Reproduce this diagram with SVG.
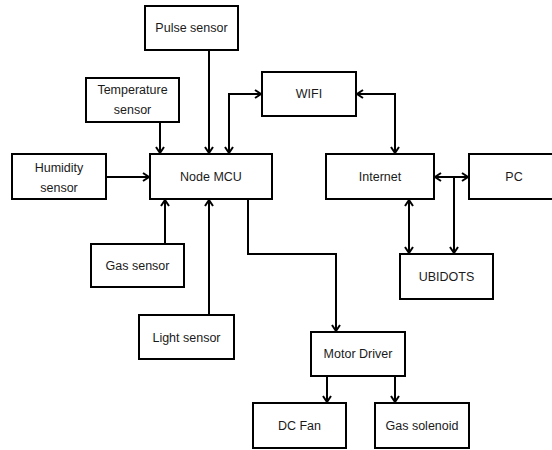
<svg xmlns="http://www.w3.org/2000/svg" width="552" height="450" viewBox="0 0 552 450">
<style>
.box{fill:#fff;stroke:#000;stroke-width:2}
.lbl{font-family:"Liberation Sans",Arial,sans-serif;font-size:12.5px;fill:#1a1a1a;text-anchor:middle;dominant-baseline:central}
.ln{fill:none;stroke:#000;stroke-width:2}
.a{marker-end:url(#ah)}
.aa{marker-start:url(#ah);marker-end:url(#ah)}
</style>
<defs>
<marker id="ah" markerUnits="userSpaceOnUse" viewBox="-8 -6 10 12" refX="0" refY="0" markerWidth="10" markerHeight="12" orient="auto-start-reverse">
<path d="M-6,-4 L0,0 L-6,4" fill="none" stroke="#000" stroke-width="2"/>
</marker>
</defs>
<rect width="552" height="450" fill="#fff"/>
<g id="connectors">
<path class="ln a" d="M209,50 V153"/>
<path class="ln a" d="M160,122 V153"/>
<path class="ln a" d="M106,177 H149"/>
<path class="ln aa" d="M229,153 V94 H261"/>
<path class="ln aa" d="M357,94 H395 V153"/>
<path class="ln aa" d="M435,177 H468"/>
<path class="ln aa" d="M409,200 V253"/>
<path class="ln a" d="M454,177 V253"/>
<path class="ln a" d="M165,244 V200"/>
<path class="ln a" d="M209,315 V200"/>
<path class="ln a" d="M248,199 V254 H336 V331"/>
<path class="ln a" d="M327,376 V402"/>
<path class="ln a" d="M395,376 V402"/>
</g>
<g id="pulse"><rect class="box" x="145" y="6" width="93" height="44"/><text class="lbl" x="191.5" y="28">Pulse sensor</text></g>
<g id="temperature"><rect class="box" x="86" y="78" width="93" height="44"/><text class="lbl" x="132.5" y="90">Temperature</text><text class="lbl" x="132.5" y="110">sensor</text></g>
<g id="humidity"><rect class="box" x="12" y="154" width="94" height="45"/><text class="lbl" x="59" y="168">Humidity</text><text class="lbl" x="59" y="188">sensor</text></g>
<g id="nodemcu"><rect class="box" x="150" y="154" width="122" height="45"/><text class="lbl" x="211" y="177">Node MCU</text></g>
<g id="wifi"><rect class="box" x="262" y="72" width="94" height="44"/><text class="lbl" x="309" y="94">WIFI</text></g>
<g id="internet"><rect class="box" x="326" y="154" width="108" height="45"/><text class="lbl" x="380" y="177">Internet</text></g>
<g id="pc"><rect class="box" x="469" y="154" width="90" height="45"/><text class="lbl" x="514" y="177">PC</text></g>
<g id="ubidots"><rect class="box" x="400" y="254" width="93" height="45"/><text class="lbl" x="446.5" y="277">UBIDOTS</text></g>
<g id="gas"><rect class="box" x="91" y="244" width="93" height="43"/><text class="lbl" x="137.5" y="266">Gas sensor</text></g>
<g id="light"><rect class="box" x="139" y="315" width="95" height="44"/><text class="lbl" x="186.5" y="338">Light sensor</text></g>
<g id="motordriver"><rect class="box" x="311" y="332" width="94" height="44"/><text class="lbl" x="358" y="354">Motor Driver</text></g>
<g id="dcfan"><rect class="box" x="253" y="403" width="93" height="45"/><text class="lbl" x="299.5" y="426">DC Fan</text></g>
<g id="solenoid"><rect class="box" x="375" y="403" width="94" height="45"/><text class="lbl" x="422" y="426">Gas solenoid</text></g>
</svg>
